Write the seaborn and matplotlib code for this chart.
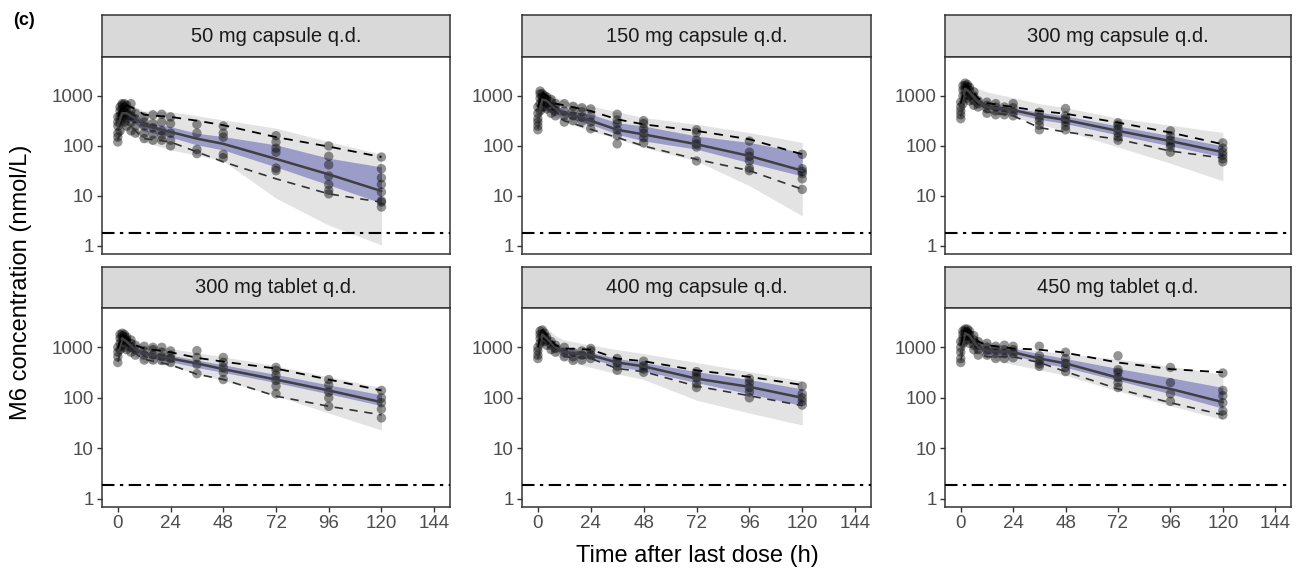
import matplotlib
matplotlib.use("Agg")
import matplotlib.pyplot as plt
import seaborn as sns
import pandas as pd
from matplotlib.ticker import NullLocator

sns.set_theme(style="white")
plt.rcParams['font.family'] = ['Liberation Sans', 'DejaVu Sans']

# panel titles
titles = ["50 mg capsule q.d.", "150 mg capsule q.d.", "300 mg capsule q.d.",
          "300 mg tablet q.d.", "400 mg capsule q.d.", "450 mg tablet q.d."]

# nominal sampling times (h) of the observations
obs_times = [0, 1, 2, 3, 4, 6, 8, 12, 16, 20, 24, 36, 48, 72, 96, 120]

# observed M6 concentrations (nmol/L), one list per nominal time
obs_50cap = [[120, 150, 180, 250, 300, 380], [200, 300, 400, 500, 600], [350, 450, 550, 650, 700],
             [300, 400, 500, 600, 700], [250, 350, 450, 550, 650], [200, 300, 400, 500, 700],
             [180, 250, 350, 450], [140, 180, 250, 300, 380], [130, 170, 230, 280, 420],
             [130, 160, 200, 300, 430], [100, 130, 180, 280, 380], [70, 85, 180, 270],
             [58, 68, 150, 180, 250], [32, 36, 75, 90, 120, 160], [11, 13, 17, 25, 42, 62, 100],
             [6, 7.5, 8, 12, 17, 23, 35, 60]]
obs_150cap = [[210, 250, 300, 350, 450, 600], [500, 700, 900, 1100, 1250], [600, 800, 950, 1100],
              [600, 750, 900, 1000], [550, 700, 850, 950], [450, 600, 750, 850], [400, 500, 600, 700],
              [300, 400, 500, 700], [320, 400, 500, 620], [310, 380, 480, 580], [220, 300, 400, 550],
              [110, 160, 210, 280, 330, 430], [115, 145, 180, 220, 280, 320],
              [50, 95, 110, 130, 185, 210], [32, 36, 50, 62, 75, 125], [13.5, 22, 28, 31, 35, 68]]
obs_300cap = [[350, 420, 500, 600, 750], [700, 1000, 1300, 1600], [1000, 1300, 1600, 1800],
              [900, 1200, 1500, 1700], [800, 1000, 1300, 1500], [650, 800, 1000, 1200], [600, 700, 800],
              [450, 550, 650, 750], [420, 500, 600, 700], [420, 500, 600], [400, 480, 580, 700],
              [210, 260, 320, 380, 470], [210, 250, 300, 350, 400, 560],
              [130, 150, 180, 220, 260, 290], [75, 95, 110, 130, 160, 200], [48, 55, 65, 75, 90, 115]]
obs_300tab = [[500, 650, 800, 1000], [900, 1200, 1500, 1800], [1100, 1400, 1700, 1900],
              [1000, 1300, 1600, 1800], [900, 1200, 1400, 1600], [800, 1000, 1200, 1400], [700, 900, 1100],
              [560, 700, 850, 1050], [560, 700, 900, 1000], [550, 650, 800, 1000], [500, 600, 700, 850],
              [300, 460, 630, 860], [230, 320, 400, 500, 630], [120, 170, 220, 280, 350, 400],
              [68, 100, 130, 180, 230], [40, 60, 80, 100, 140]]
obs_400cap = [[600, 700, 850, 1000], [1200, 1500, 1800, 2100], [1400, 1800, 2200], [1300, 1600, 1900],
              [1100, 1400, 1600], [900, 1100, 1300], [800, 950, 1100], [650, 800, 1000], [550, 650, 800],
              [560, 700, 850], [600, 700, 850, 950], [350, 420, 500, 600], [320, 370, 430, 530],
              [160, 190, 250, 290, 330], [100, 130, 160, 200, 240], [72, 85, 100, 120, 170]]
obs_450tab = [[500, 600, 800, 1000, 1300], [1200, 1500, 1800, 2100], [1500, 1800, 2100, 2300],
              [1400, 1700, 2000, 2300], [1200, 1500, 1800, 2100], [900, 1100, 1400, 1700],
              [700, 900, 1100, 1300], [700, 850, 1000, 1200], [600, 750, 900, 1050], [600, 750, 900, 1100],
              [620, 750, 900, 1050], [420, 470, 540, 680, 1050], [330, 400, 480, 600, 800],
              [160, 200, 250, 320, 360, 680], [85, 120, 200, 400], [46, 55, 80, 110, 140, 310]]

# VPC summary times (h)
vpc_times = [0, 2, 4, 8, 12, 24, 36, 48, 72, 96, 120]

# observed median / 95th / 5th percentiles
med_obs = [[250, 450, 450, 350, 260, 190, 140, 110, 55, 27, 12.5],
           [330, 850, 800, 550, 450, 320, 210, 170, 108, 63, 32],
           [500, 1400, 1200, 750, 600, 520, 400, 330, 200, 125, 75],
           [700, 1500, 1300, 900, 750, 600, 480, 370, 230, 140, 82],
           [750, 1800, 1500, 1000, 800, 700, 500, 420, 240, 165, 100],
           [750, 1900, 1700, 1000, 850, 800, 600, 480, 250, 150, 82]]
p95_obs = [[380, 650, 650, 550, 420, 380, 320, 260, 150, 97, 60],
           [600, 1200, 1000, 700, 650, 500, 340, 270, 200, 136, 68],
           [700, 1700, 1500, 900, 720, 600, 500, 440, 293, 185, 108],
           [950, 1800, 1600, 1100, 950, 800, 620, 520, 380, 230, 140],
           [1000, 2200, 1800, 1100, 950, 900, 600, 530, 350, 260, 180],
           [1100, 2300, 2200, 1300, 1100, 950, 900, 780, 500, 370, 320]]
p05_obs = [[130, 250, 300, 200, 140, 120, 76, 48, 22, 11, 7.5],
           [220, 600, 550, 400, 320, 215, 147, 100, 54, 32, 13.6],
           [380, 1000, 900, 600, 480, 400, 232, 190, 136, 79, 57],
           [520, 1100, 1000, 750, 580, 450, 293, 232, 108, 68, 46],
           [600, 1400, 1200, 850, 650, 600, 380, 330, 170, 110, 70],
           [550, 1300, 1300, 750, 650, 650, 500, 330, 150, 80, 46]]

# simulated median CI (blue) and simulated 5th-95th prediction interval (grey)
ci_lo = [[200, 350, 350, 280, 200, 150, 105, 83, 38, 16.6, 7.2],
         [280, 700, 700, 450, 380, 270, 171, 126, 86, 46, 25],
         [450, 1200, 1100, 650, 550, 450, 340, 280, 165, 100, 60],
         [600, 1300, 1200, 800, 650, 520, 400, 320, 200, 120, 70],
         [650, 1600, 1300, 900, 700, 600, 420, 340, 200, 120, 70],
         [650, 1700, 1500, 900, 750, 700, 500, 400, 220, 120, 62]]
ci_hi = [[300, 550, 550, 420, 300, 243, 179, 154, 105, 57, 38],
         [420, 1000, 900, 650, 520, 430, 292, 250, 158, 117, 74],
         [600, 1600, 1400, 850, 680, 580, 470, 400, 250, 160, 100],
         [800, 1700, 1500, 1000, 850, 700, 560, 450, 290, 180, 115],
         [900, 2100, 1700, 1200, 950, 800, 600, 500, 330, 230, 150],
         [900, 2200, 2000, 1200, 1000, 950, 750, 600, 380, 250, 160]]
pi_lo = [[120, 200, 200, 160, 120, 83, 66, 50, 9, 2.6, 1.05],
         [200, 500, 500, 380, 300, 200, 140, 93, 50, 16, 4],
         [320, 900, 800, 550, 470, 380, 270, 200, 95, 45, 20],
         [450, 900, 900, 650, 500, 430, 300, 220, 110, 50, 23],
         [500, 1200, 1000, 700, 550, 400, 300, 230, 90, 50, 29],
         [500, 1200, 1100, 750, 600, 460, 360, 280, 136, 70, 37]]
pi_hi = [[400, 700, 700, 600, 500, 485, 400, 331, 226, 122, 68],
         [700, 1500, 1250, 950, 800, 630, 480, 370, 270, 185, 117],
         [900, 2000, 1800, 1400, 1200, 925, 700, 580, 360, 260, 185],
         [1100, 2000, 1800, 1300, 1100, 950, 780, 650, 430, 260, 160],
         [1300, 2800, 2400, 1700, 1400, 1100, 900, 750, 500, 330, 215],
         [1300, 2600, 2400, 1600, 1300, 1000, 850, 750, 585, 420, 293]]

lloq = 1.85
x_ticks = [0, 24, 48, 72, 96, 120, 144]
y_ticks = [1, 10, 100, 1000]

all_obs = [obs_50cap, obs_150cap, obs_300cap, obs_300tab, obs_400cap, obs_450tab]

W, H = 1296, 571
fig = plt.figure(figsize=(W / 100, H / 100), dpi=100)


def px_axes(x0, y0, w, h):
    return fig.add_axes([x0 / W, 1 - (y0 + h) / H, w / W, h / H])


col_left = [102, 522, 945]
col_w = [348, 349, 346]
strip_top = [15, 267]
strip_h = [42, 41]
ax_top = [57, 308]
ax_h = [197, 199]
edge = "#333333"

for i, title in enumerate(titles):
    row, col = divmod(i, 3)

    # facet strip
    st = px_axes(col_left[col], strip_top[row], col_w[col], strip_h[row])
    st.set_facecolor("#d9d9d9")
    st.set_xticks([])
    st.set_yticks([])
    for sp in st.spines.values():
        sp.set_color(edge)
        sp.set_linewidth(1.1)
    st.text(0.5, 0.5, title, ha="center", va="center", fontsize=14.5, color="#1a1a1a",
            transform=st.transAxes)

    ax = px_axes(col_left[col], ax_top[row], col_w[col], ax_h[row])

    ax.fill_between(vpc_times, pi_lo[i], pi_hi[i], color="#e3e3e3", lw=0, zorder=1)
    ax.fill_between(vpc_times, ci_lo[i], ci_hi[i], color="#9c9cc9", lw=0, zorder=2)

    rows = [(t, c) for t, vals in zip(obs_times, all_obs[i]) for c in vals]
    df = pd.DataFrame(rows, columns=["time", "conc"])
    sns.scatterplot(data=df, x="time", y="conc", ax=ax, color="black", alpha=0.42,
                    s=46, edgecolor="none", legend=False, zorder=3)

    sns.lineplot(x=vpc_times, y=med_obs[i], ax=ax, color="#404040", lw=1.8, zorder=4)
    sns.lineplot(x=vpc_times, y=p95_obs[i], ax=ax, color="black", lw=1.3, zorder=4)
    ax.lines[-1].set_dashes((5, 4))
    sns.lineplot(x=vpc_times, y=p05_obs[i], ax=ax, color="#333333", lw=1.2, zorder=4)
    ax.lines[-1].set_dashes((5, 4))

    ax.axhline(lloq, color="black", lw=1.5, dashes=(6, 2.6, 1.6, 2.6), zorder=5)

    ax.set_yscale("log")
    ax.set_xlim(-7.2, 151.2)
    ax.set_ylim(0.69, 6000)
    ax.set_yticks(y_ticks)
    ax.set_yticklabels([str(v) for v in y_ticks])
    ax.yaxis.set_minor_locator(NullLocator())
    ax.set_xticks(x_ticks)
    ax.set_xlabel("")
    ax.set_ylabel("")
    ax.set_facecolor("white")
    for sp in ax.spines.values():
        sp.set_color(edge)
        sp.set_linewidth(1.1)
    ax.tick_params(axis="both", direction="out", length=3.8, width=1, color=edge,
                   labelcolor="#4d4d4d", labelsize=13.5, pad=2)
    ax.tick_params(axis="y", left=True)
    if row == 0:
        ax.tick_params(axis="x", bottom=False, labelbottom=False)
    else:
        ax.tick_params(axis="x", bottom=True)

fig.text(21 / W, 1 - 282 / H, "M6 concentration (nmol/L)", rotation=90,
         ha="center", va="center", fontsize=17, color="black")
fig.text(697 / W, 1 - 556 / H, "Time after last dose (h)",
         ha="center", va="center", fontsize=17, color="black")
fig.text(13 / W, 1 - 12 / H, "(c)", ha="left", va="top", fontsize=13,
         fontweight="bold", color="black")

fig.savefig("out.png", dpi=100)
